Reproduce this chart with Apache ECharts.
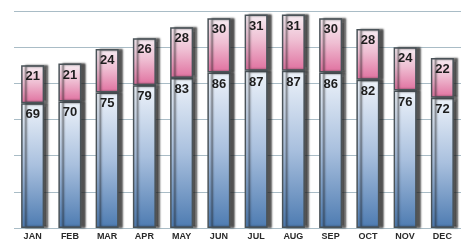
<!DOCTYPE html>
<html>
<head>
<meta charset="utf-8">
<script src="https://cdn.jsdelivr.net/npm/echarts@6/dist/echarts.min.js"></script>
<style>
  html, body { margin: 0; padding: 0; background: #fff; }
  #chart { width: 467px; height: 242px; }
</style>
</head>
<body>
<div id="chart"></div>
<script>
// data
var months = ["JAN", "FEB", "MAR", "APR", "MAY", "JUN", "JUL", "AUG", "SEP", "OCT", "NOV", "DEC"];
var lowValues = [69, 70, 75, 79, 83, 86, 87, 87, 86, 82, 76, 72];
var highValues = [21, 21, 24, 26, 28, 30, 31, 31, 30, 28, 24, 22];

var chart = echarts.init(document.getElementById("chart"));

var barShadow = {
  borderColor: "#4a5358",
  borderWidth: 1.5,
  shadowColor: "rgba(30,30,30,0.75)",
  shadowOffsetX: 4,
  shadowOffsetY: 0,
  shadowBlur: 2
};

var labelStyle = {
  show: true,
  position: "insideTop",
  distance: 5,
  color: "#1e1e1e",
  fontFamily: "Liberation Sans, Arial, sans-serif",
  fontWeight: "bold",
  fontSize: 13
};

chart.setOption({
  backgroundColor: "#ffffff",
  animation: false,
  grid: { left: 14, right: 6, top: 11, bottom: 14 },
  xAxis: {
    type: "category",
    data: months,
    axisLine: { show: false },
    axisTick: { show: false },
    axisLabel: {
      margin: 4,
      color: "#2a2a2a",
      fontFamily: "Liberation Sans, Arial, sans-serif",
      fontWeight: "bold",
      fontSize: 9
    }
  },
  yAxis: {
    type: "value",
    min: 0,
    max: 120,
    interval: 20,
    axisLabel: { show: false },
    axisLine: { show: false },
    axisTick: { show: false },
    splitLine: { lineStyle: { color: "#a9bcc6", width: 1.2 } }
  },
  series: [
    {
      name: "low",
      type: "bar",
      stack: "t",
      barWidth: 23,
      data: lowValues,
      itemStyle: Object.assign({
        color: new echarts.graphic.LinearGradient(0, 0, 0, 1, [
          { offset: 0, color: "#eef3fa" },
          { offset: 0.5, color: "#a9c0de" },
          { offset: 1, color: "#4d7bb1" }
        ])
      }, barShadow),
      label: labelStyle
    },
    {
      name: "high",
      type: "bar",
      stack: "t",
      barWidth: 23,
      data: highValues,
      itemStyle: Object.assign({
        color: new echarts.graphic.LinearGradient(0, 0, 0, 1, [
          { offset: 0, color: "#f7eef3" },
          { offset: 0.45, color: "#efbfd3" },
          { offset: 1, color: "#e0709f" }
        ])
      }, barShadow),
      label: labelStyle
    }
  ]
});

window.addEventListener("resize", chart.resize);
</script>
</body>
</html>
